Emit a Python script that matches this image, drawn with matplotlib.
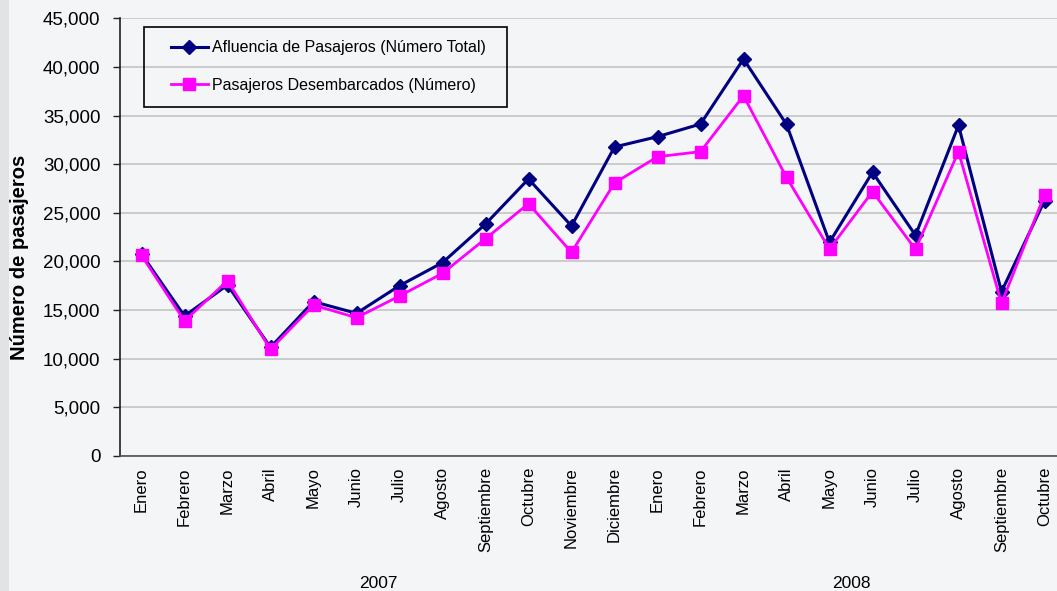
import matplotlib
matplotlib.use("Agg")
import matplotlib.pyplot as plt
import matplotlib.transforms as mtransforms
from matplotlib.ticker import FuncFormatter, MultipleLocator
import numpy as np

plt.rcParams['font.family'] = ['Liberation Sans', 'DejaVu Sans']

months = ["Enero", "Febrero", "Marzo", "Abril", "Mayo", "Junio", "Julio",
          "Agosto", "Septiembre", "Octubre", "Noviembre", "Diciembre",
          "Enero", "Febrero", "Marzo", "Abril", "Mayo", "Junio", "Julio",
          "Agosto", "Septiembre", "Octubre"]
years = ["2007", "2008"]
year_centers = [5.5, 16.5]

afluencia = [20770, 14390, 17580, 11170, 15870, 14670, 17510, 19880, 23850,
             28480, 23650, 31770, 32830, 34130, 40820, 34100, 21970, 29170,
             22690, 34000, 16890, 26250]
desembarcados = [20630, 13880, 18020, 10970, 15520, 14220, 16450, 18780,
                 22340, 25940, 20940, 28070, 30770, 31290, 37040, 28650,
                 21280, 27180, 21250, 31290, 15700, 26830]

W, H = 1057, 591
fig = plt.figure(figsize=(W / 100, H / 100), dpi=100)
fig.patch.set_facecolor('#f4f5f6')

# left gray strip
fig.patches.append(plt.Rectangle((0, 0), 9 / W, 1, transform=fig.transFigure,
                                 facecolor='#e2e3e4', edgecolor='none', zorder=0))

ax = fig.add_axes([120 / W, 1 - 456 / H, 946 / W, (456 - 18.3) / H])
ax.set_facecolor('none')

x = np.arange(len(months))
ax.plot(x, afluencia, color='#000080', lw=2.2, marker='D', ms=7.5,
        markeredgecolor='#000080', label='Afluencia de Pasajeros (Número Total)', zorder=3)
ax.plot(x, desembarcados, color='#ff00ff', lw=2.0, marker='s', ms=9,
        markeredgecolor='#ff00ff', label='Pasajeros Desembarcados (Número)', zorder=4)

ax.set_xlim(-0.5, len(months) - 0.5)
ax.set_ylim(0, 45000)
ax.yaxis.set_major_locator(MultipleLocator(5000))
ax.yaxis.set_major_formatter(FuncFormatter(lambda v, p: f"{int(v):,}"))
ax.grid(axis='y', color='#c4c4c4', lw=1.2)
ax.set_axisbelow(True)

ax.set_xticks(x)
ax.set_xticklabels(months, rotation=90, fontsize=12)
ax.tick_params(axis='x', length=0, pad=8)
ax.tick_params(axis='y', length=5, width=1, pad=9, labelsize=13.5, color='#202020')

for s in ['top', 'right']:
    ax.spines[s].set_visible(False)
ax.spines['left'].set_color('#202020')
ax.spines['bottom'].set_color('#505050')
ax.spines['left'].set_linewidth(1.2)
ax.spines['bottom'].set_linewidth(1.2)

fig.text(20 / W, 1 - 257 / H, "Número de pasajeros", rotation=90,
         ha='center', va='center', fontsize=14.5, fontweight='bold')

trans = mtransforms.blended_transform_factory(ax.transData, fig.transFigure)
for yc, yl in zip(year_centers, years):
    ax.text(yc, 1 - 583 / H, yl, transform=trans, ha='center', va='center',
            fontsize=12.5)

# legend frame drawn as a rectangle, entries placed inside
fig.patches.append(plt.Rectangle((144 / W, 1 - 107 / H), (507 - 144) / W, 80 / H,
                                 transform=fig.transFigure, facecolor='none',
                                 edgecolor='black', lw=1.2, zorder=5))
leg = ax.legend(loc='center left', bbox_to_anchor=(171 / W, 1 - 66.5 / H),
                bbox_transform=fig.transFigure, borderaxespad=0, borderpad=0,
                frameon=False, fontsize=11.5, handlelength=2.3,
                handletextpad=0.25, labelspacing=1.4)

fig.savefig("out.png", dpi=100, facecolor=fig.get_facecolor())
